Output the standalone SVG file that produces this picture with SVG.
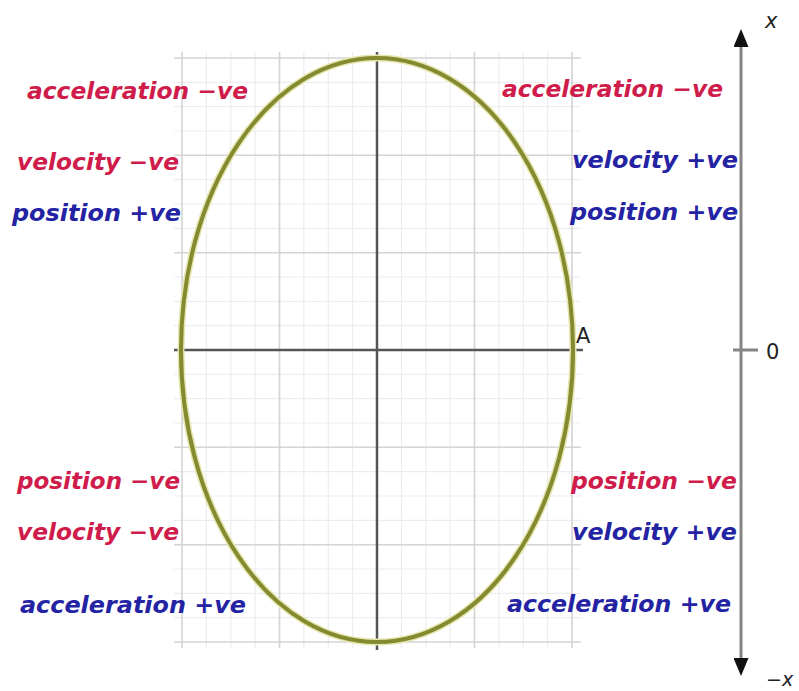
<svg xmlns="http://www.w3.org/2000/svg" width="799" height="691" viewBox="0 0 799 691">
<style>
.lbl{font-family:"DejaVu Sans","Verdana",sans-serif;font-weight:bold;font-style:italic;font-size:23px}
.red{fill:#d01c4b}
.blue{fill:#2323a3}
.minor{stroke:#ededed;stroke-width:1.2;fill:none}
.major{stroke:#d4d4d4;stroke-width:1.6;fill:none}
.axis{stroke:#555;stroke-width:2.5;fill:none}
.rax{stroke:#858585;stroke-width:3;fill:none}
.ax{font-family:"DejaVu Sans",sans-serif;fill:#222}
</style>
<defs>
<marker id="arr" viewBox="0 0 18 15" refX="2" refY="7.5" markerWidth="18" markerHeight="15" markerUnits="userSpaceOnUse" orient="auto">
<path d="M0,0 L18,7.5 L0,15 Z" fill="#111"/>
</marker>
</defs>
<rect width="799" height="691" fill="#fff"/>
<g id="grid">
<path class="minor" d="M206.4,52V648M230.8,52V648M255.1,52V648M303.9,52V648M328.3,52V648M352.6,52V648M401.4,52V648M425.8,52V648M450.1,52V648M498.9,52V648M523.3,52V648M547.6,52V648M174,82.3H581M174,106.7H581M174,131H581M174,179.7H581M174,204H581M174,228.3H581M174,277H581M174,301.3H581M174,325.7H581M174,374.3H581M174,398.7H581M174,423H581M174,471.7H581M174,496H581M174,520.3H581M174,569H581M174,593.3H581M174,617.7H581"/>
<path class="major" d="M182,52V648M279.5,52V648M474.5,52V648M572,52V648M174,58H581M174,155.3H581M174,252.7H581M174,447.3H581M174,544.7H581M174,642H581"/>
<path class="axis" d="M174,350H583M377,52V650"/>
</g>
<g id="ellipse">
<ellipse cx="377" cy="350" rx="196" ry="292" fill="none" stroke="#e6e6b0" stroke-width="7"/>
<ellipse cx="377" cy="350" rx="196" ry="292" fill="none" stroke="#838a30" stroke-width="4"/>
</g>
<g id="connectors">
<line class="rax" x1="741" y1="350" x2="741" y2="45" marker-end="url(#arr)"/>
<line class="rax" x1="741" y1="350" x2="741" y2="660" marker-end="url(#arr)"/>
<line class="rax" x1="733" y1="350" x2="758" y2="350"/>
</g>
<g id="axis-labels">
<text class="ax" x="765" y="28" font-size="21" font-style="italic">x</text>
<text class="ax" x="766" y="686" font-size="19" font-style="italic">−x</text>
<text class="ax" x="766" y="359" font-size="21">0</text>
<text class="ax" x="576" y="343" font-size="21">A</text>
</g>
<g id="q2-left-top">
<text class="lbl red" x="27" y="99" textLength="221" lengthAdjust="spacingAndGlyphs">acceleration −ve</text>
<text class="lbl red" x="17" y="170" textLength="162" lengthAdjust="spacingAndGlyphs">velocity −ve</text>
<text class="lbl blue" x="12" y="221" textLength="169" lengthAdjust="spacingAndGlyphs">position +ve</text>
</g>
<g id="q1-right-top">
<text class="lbl red" x="502" y="97" textLength="221" lengthAdjust="spacingAndGlyphs">acceleration −ve</text>
<text class="lbl blue" x="572" y="168" textLength="166" lengthAdjust="spacingAndGlyphs">velocity +ve</text>
<text class="lbl blue" x="570" y="220" textLength="168" lengthAdjust="spacingAndGlyphs">position +ve</text>
</g>
<g id="q3-left-bottom">
<text class="lbl red" x="17" y="489" textLength="163" lengthAdjust="spacingAndGlyphs">position −ve</text>
<text class="lbl red" x="17" y="540" textLength="162" lengthAdjust="spacingAndGlyphs">velocity −ve</text>
<text class="lbl blue" x="20" y="613" textLength="226" lengthAdjust="spacingAndGlyphs">acceleration +ve</text>
</g>
<g id="q4-right-bottom">
<text class="lbl red" x="571" y="489" textLength="166" lengthAdjust="spacingAndGlyphs">position −ve</text>
<text class="lbl blue" x="572" y="540" textLength="165" lengthAdjust="spacingAndGlyphs">velocity +ve</text>
<text class="lbl blue" x="507" y="612" textLength="224" lengthAdjust="spacingAndGlyphs">acceleration +ve</text>
</g>
</svg>
